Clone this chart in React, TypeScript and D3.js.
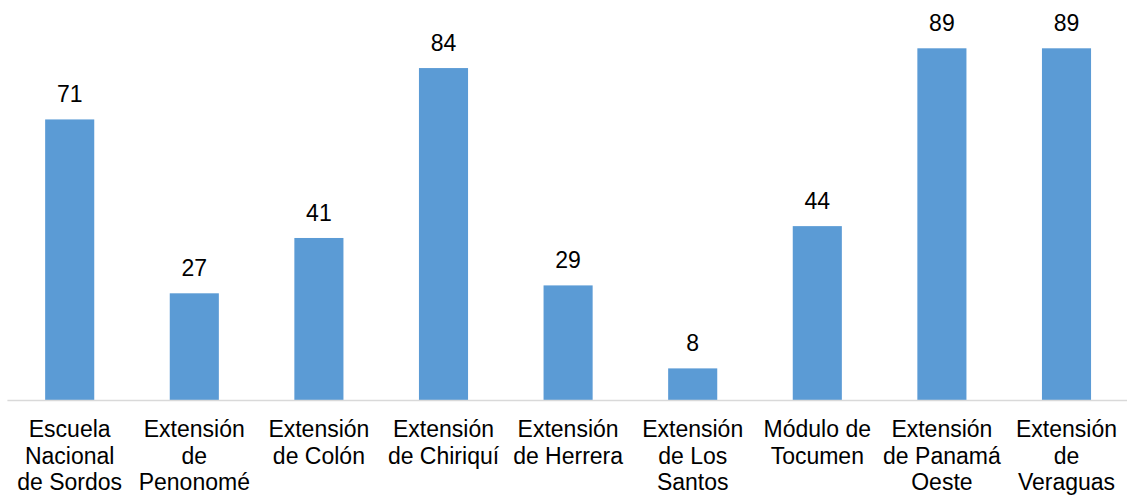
import React, { useEffect, useRef } from 'react';
import * as d3 from 'd3';

const categories = [
  ['Escuela', 'Nacional', 'de Sordos'],
  ['Extensión', 'de', 'Penonomé'],
  ['Extensión', 'de Colón'],
  ['Extensión', 'de Chiriquí'],
  ['Extensión', 'de Herrera'],
  ['Extensión', 'de Los', 'Santos'],
  ['Módulo de', 'Tocumen'],
  ['Extensión', 'de Panamá', 'Oeste'],
  ['Extensión', 'de', 'Veraguas'],
];
const values = [71, 27, 41, 84, 29, 8, 44, 89, 89];

const App: React.FC = () => {
  const chartRef = useRef<SVGSVGElement | null>(null);

  useEffect(() => {
    if (chartRef.current) drawChart();
  }, []);

  const drawChart = () => {
    const svg = d3.select(chartRef.current);
    svg.selectAll('*').remove();

    const width = 1127;
    const baseline = 400;
    const plotLeft = 7.4;
    const plotRight = 1128.8;
    const font = 'Arial, "Liberation Sans", sans-serif';

    const idx = values.map((_, i) => String(i));
    const x = d3.scaleBand<string>().domain(idx).range([plotLeft, plotRight]).padding(0);
    const y = d3.scaleLinear().domain([0, 89]).range([baseline, 48.3]);
    const barW = x.bandwidth() * 0.394;

    svg.selectAll('.bar')
      .data(values)
      .enter().append('rect')
      .attr('class', 'bar')
      .attr('x', (_, i) => (x(String(i)) || 0) + (x.bandwidth() - barW) / 2)
      .attr('y', d => y(d))
      .attr('width', barW)
      .attr('height', d => baseline - y(d))
      .attr('fill', '#5B9BD5');

    svg.append('line')
      .attr('x1', plotLeft)
      .attr('x2', width)
      .attr('y1', baseline + 0.5)
      .attr('y2', baseline + 0.5)
      .attr('stroke', '#d9d9d9')
      .attr('stroke-width', 1.5);

    svg.selectAll('.val')
      .data(values)
      .enter().append('text')
      .attr('class', 'val')
      .attr('x', (_, i) => (x(String(i)) || 0) + x.bandwidth() / 2)
      .attr('y', d => y(d) - 17)
      .attr('text-anchor', 'middle')
      .attr('font-family', font)
      .attr('font-size', 23)
      .attr('fill', '#000')
      .text(d => d);

    const labels = svg.selectAll('.cat')
      .data(categories)
      .enter().append('text')
      .attr('class', 'cat')
      .attr('text-anchor', 'middle')
      .attr('font-family', font)
      .attr('font-size', 23)
      .attr('fill', '#000');

    labels.each(function (lines, i) {
      const cx = (x(String(i)) || 0) + x.bandwidth() / 2;
      d3.select(this).selectAll('tspan')
        .data(lines)
        .enter().append('tspan')
        .attr('x', cx)
        .attr('y', (_, j) => 437 + j * 26.6)
        .text(l => l);
    });
  };

  return (
    <svg ref={chartRef} width={1127} height={498}
      style={{ position: 'absolute', left: 0, top: 0, background: '#fff' }}></svg>
  );
};

export default App;
